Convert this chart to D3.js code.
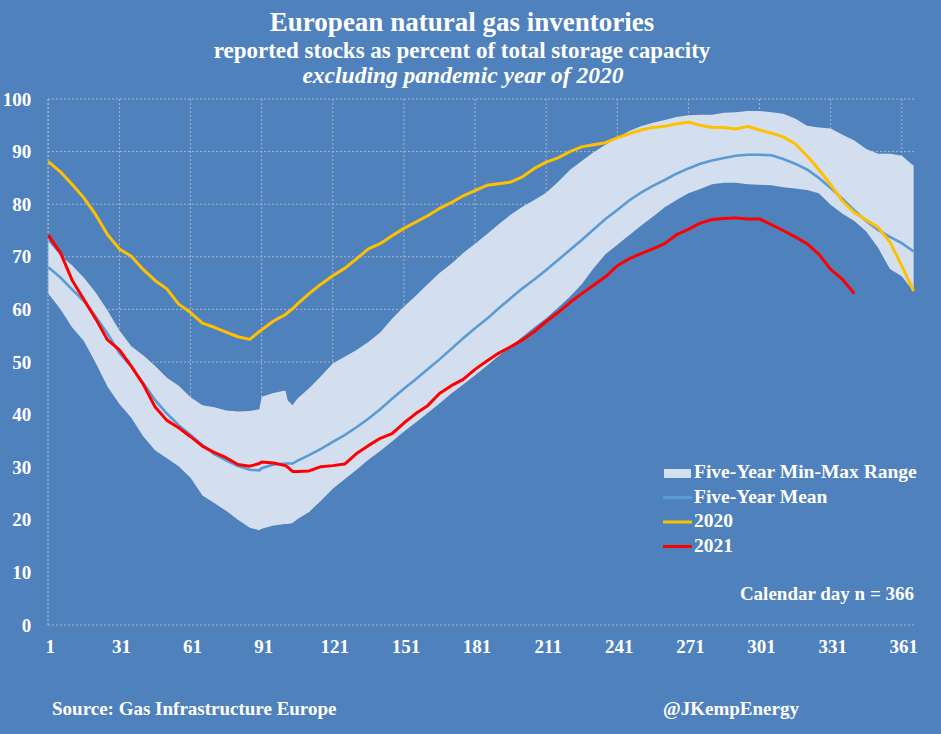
<!DOCTYPE html>
<html>
<head>
<meta charset="utf-8">
<script src="https://cdn.jsdelivr.net/npm/d3@7"></script>
<style>
  body { margin: 0; background: #4f81bd; }
  svg { display: block; }
  text { font-family: "Liberation Serif", "DejaVu Serif", serif; font-weight: bold; fill: #fff; }
</style>
</head>
<body>
<svg id="chart"></svg>
<script>
var w = 941,
    h = 734;

// calendar days
var days = [1, 6, 11, 16, 21, 26, 31, 36, 41, 46, 51, 56, 61, 66, 71, 76, 81, 86,
  90, 91, 96, 101, 102, 104,
  106, 111, 116, 121, 126, 131, 136, 141, 146, 151, 156, 161, 166, 171, 176, 181, 186, 191, 196, 201,
  206, 211, 216, 221, 226, 231, 236, 241, 246, 251, 256, 261, 266, 271, 276, 281, 286, 291, 296, 301,
  306, 311, 316, 321, 326, 331, 336, 341, 346, 351, 356, 361, 366];

var maxRange = [73.0, 70.3, 68.4, 66.0, 63.2, 59.8, 56.0, 53.0, 51.3, 49.3, 47.0, 45.5, 43.3, 41.8, 41.4, 40.8, 40.6, 40.7,
  41.0, 43.4, 44.1, 44.6, 42.7, 41.8,
  43.0, 45.0, 47.3, 49.7, 51.0, 52.3, 53.8, 55.6, 58.2, 60.5,
  62.6, 64.8, 66.9, 68.7, 70.7, 72.5, 74.3, 76.2, 78.0, 79.5,
  80.8, 82.2, 84.2, 86.5, 88.2, 89.9, 91.3, 92.6, 93.9, 94.8,
  95.5, 96.0, 96.6, 96.9, 97.0, 97.0, 97.4, 97.5, 97.7, 97.7,
  97.5, 97.2, 96.3, 94.9, 94.6, 94.4, 93.2, 92.1, 90.5, 89.6,
  89.6, 89.2, 87.3];

var minRange = [63.0, 60.1, 56.6, 54.0, 49.8, 45.3, 42.0, 39.4, 35.9, 33.2, 31.7, 30.2, 28.0, 24.6, 23.2, 21.7, 20.0, 18.5,
  18.0, 18.3, 18.9, 19.2, 19.2, 19.4,
  20.1, 21.5, 23.6, 25.9, 27.7, 29.5, 31.4, 33.1, 34.9, 36.8,
  38.5, 40.3, 42.1, 44.0, 45.7, 47.5, 49.3, 51.2, 52.9, 54.8,
  56.6, 58.3, 60.3, 62.4, 64.8, 67.8, 70.5, 72.3, 74.1, 75.9,
  77.6, 79.4, 80.8, 82.1, 82.9, 83.8, 84.1, 84.1, 83.8, 83.7,
  83.6, 83.2, 83.0, 82.7, 82.1, 79.9, 78.2, 76.8, 74.8, 71.7,
  67.7, 66.3, 63.4];

var meanVals = [68.0, 66.1, 63.8, 61.6, 58.6, 55.4, 51.7, 49.1, 46.0, 42.8, 40.2, 38.0, 36.1, 34.2, 32.5, 31.3, 30.2, 29.5,
  29.4, 29.8, 30.5, 30.7, 30.7, 30.7,
  31.2, 32.3, 33.5, 34.8, 36.1, 37.6, 39.2, 41.0, 43.0, 44.9,
  46.7, 48.6, 50.5, 52.5, 54.5, 56.4, 58.2, 60.2, 62.1, 64.0,
  65.7, 67.5, 69.4, 71.3, 73.2, 75.2, 77.2, 78.9, 80.7, 82.2,
  83.5, 84.6, 85.8, 86.8, 87.7, 88.3, 88.8, 89.2, 89.4, 89.4,
  89.3, 88.6, 87.7, 86.6, 85.0, 83.1, 81.0, 78.8, 76.8, 75.1,
  73.8, 72.6, 71.0];

var vals2020 = [88.1, 86.2, 83.8, 81.2, 78.0, 74.2, 71.5, 70.1, 67.6, 65.5, 63.9, 61.0, 59.4, 57.4, 56.6, 55.7, 54.8, 54.3,
  55.8, 56.1, 57.8, 59.0, 59.4, 60.1,
  61.0, 63.0, 64.8, 66.4, 67.8, 69.6, 71.5, 72.5, 74.0, 75.4,
  76.6, 77.8, 79.2, 80.3, 81.6, 82.6, 83.6, 83.9, 84.2, 85.2,
  86.8, 88.0, 88.8, 90.0, 90.9, 91.3, 91.7, 92.6, 93.4, 94.1,
  94.6, 94.8, 95.3, 95.6, 95.0, 94.6, 94.6, 94.3, 94.8, 94.1,
  93.5, 92.8, 91.5, 89.2, 86.6, 83.7, 80.6, 78.4, 77.0, 75.6,
  72.8, 68.3, 63.5];

// 2021 stops at day 341
var vals2021 = [74.1, 70.9, 65.6, 61.9, 58.2, 54.2, 52.3, 49.2, 45.8, 41.5, 38.9, 37.5, 35.8, 34.0, 32.8, 31.8, 30.5, 30.2,
  30.7, 31.0, 30.8, 30.3, 30.0, 29.2,
  29.2, 29.3, 30.1, 30.3, 30.6, 32.6, 34.1, 35.5, 36.4, 38.4,
  40.2, 41.7, 44.0, 45.5, 46.7, 48.6, 50.2, 51.7, 52.9, 54.2,
  55.8, 57.7, 59.4, 61.3, 63.0, 64.6, 66.2, 68.3, 69.6, 70.6,
  71.5, 72.5, 74.2, 75.2, 76.4, 77.1, 77.3, 77.4, 77.2, 77.2,
  76.1, 75.0, 73.8, 72.5, 70.5, 67.6, 65.7, 63.0];

var xTicks = [1, 31, 61, 91, 121, 151, 181, 211, 241, 271, 301, 331, 361];
var yTicks = [0, 10, 20, 30, 40, 50, 60, 70, 80, 90, 100];
var legendLabels = ["Five-Year Min-Max Range", "Five-Year Mean", "2020", "2021"];

var bg = "#4f81bd",
    bandColor = "#d3dfee",
    meanColor = "#5b9bd5",
    color2020 = "#ffc000",
    color2021 = "#ff0000",
    gridColor = "#aab4c6";

var rows = days.map(function(d, i) {
  return {
    day: d,
    min: minRange[i],
    max: maxRange[i],
    mean: meanVals[i],
    v2020: vals2020[i],
    v2021: i < vals2021.length ? vals2021[i] : null
  };
});

var x = d3.scaleLinear().domain([1, 367]).range([48.3, 916]);
var y = d3.scaleLinear().domain([0, 100]).range([625, 99]);

var svg = d3.select("#chart")
  .attr("width", w)
  .attr("height", h);

svg.append("rect")
  .attr("width", w)
  .attr("height", h)
  .style("fill", bg);

// titles
svg.append("text").attr("x", 462).attr("y", 31)
  .attr("text-anchor", "middle").style("font-size", "27px")
  .text("European natural gas inventories");
svg.append("text").attr("x", 462).attr("y", 58)
  .attr("text-anchor", "middle").style("font-size", "23px")
  .text("reported stocks as percent of total storage capacity");
svg.append("text").attr("x", 463).attr("y", 83)
  .attr("text-anchor", "middle").style("font-size", "23.5px").style("font-style", "italic")
  .text("excluding pandemic year of 2020");

// grid
var grid = svg.append("g");
grid.selectAll(".hg").data(yTicks.slice(1)).enter().append("line")
  .attr("x1", x.range()[0] - 0.3).attr("x2", x.range()[1])
  .attr("y1", y).attr("y2", y)
  .style("stroke", gridColor).style("stroke-dasharray", "2,2");
grid.selectAll(".vg").data(xTicks).enter().append("line")
  .attr("x1", x).attr("x2", x)
  .attr("y1", y(0)).attr("y2", y(100))
  .style("stroke", gridColor).style("stroke-dasharray", "2,2");

// the area below the band hides the grid, like a stacked area
svg.append("path")
  .datum(rows)
  .attr("d", d3.area().x(function(d) { return x(d.day); }).y0(y(0)).y1(function(d) { return y(d.min); }))
  .style("fill", bg);

svg.append("path")
  .datum(rows)
  .attr("d", d3.area().x(function(d) { return x(d.day); })
    .y0(function(d) { return y(d.min); })
    .y1(function(d) { return y(d.max); }))
  .style("fill", bandColor);

// axis lines
svg.append("line")
  .attr("x1", x.range()[0] - 0.3).attr("x2", x.range()[1])
  .attr("y1", y(0)).attr("y2", y(0))
  .style("stroke", gridColor).style("stroke-dasharray", "2,2");
svg.append("line")
  .attr("x1", x.range()[0] - 0.3).attr("x2", x.range()[0] - 0.3)
  .attr("y1", y(0)).attr("y2", y(100))
  .style("stroke", gridColor).style("stroke-dasharray", "2,2");

function lineFor(key) {
  return d3.line()
    .defined(function(d) { return d[key] != null; })
    .x(function(d) { return x(d.day); })
    .y(function(d) { return y(d[key]); });
}

svg.append("path").datum(rows).attr("d", lineFor("mean"))
  .style("fill", "none").style("stroke", meanColor).style("stroke-width", 2.6);
svg.append("path").datum(rows).attr("d", lineFor("v2020"))
  .style("fill", "none").style("stroke", color2020).style("stroke-width", 3).style("stroke-linejoin", "round");
svg.append("path").datum(rows).attr("d", lineFor("v2021"))
  .style("fill", "none").style("stroke", color2021).style("stroke-width", 3).style("stroke-linejoin", "round");

// axes
var yAxis = svg.append("g")
  .attr("transform", "translate(" + x.range()[0] + ",0)")
  .call(d3.axisLeft(y).tickValues(yTicks).tickSize(0).tickPadding(17));
var xAxis = svg.append("g")
  .attr("transform", "translate(1.5," + y(0) + ")")
  .call(d3.axisBottom(x).tickValues(xTicks).tickSize(0).tickPadding(15));
[yAxis, xAxis].forEach(function(a) {
  a.select(".domain").remove();
  a.selectAll("text")
    .style("font-family", "'Liberation Serif', serif")
    .style("font-size", "19px")
    .style("font-weight", "bold")
    .style("fill", "#fff");
});

// legend
var legend = svg.append("g").attr("transform", "translate(663,478)");
var swatchStyles = [
  { type: "rect", color: bandColor },
  { type: "line", color: meanColor },
  { type: "line", color: color2020 },
  { type: "line", color: color2021 }
];
var items = legend.selectAll("g").data(legendLabels).enter().append("g")
  .attr("transform", function(d, i) { return "translate(0," + i * 24.5 + ")"; });
items.each(function(d, i) {
  var g = d3.select(this), s = swatchStyles[i];
  if (s.type === "rect") {
    g.append("rect").attr("x", 1).attr("y", -9).attr("width", 27).attr("height", 9).style("fill", s.color);
  } else {
    g.append("line").attr("x1", 0).attr("x2", 29).attr("y1", -5).attr("y2", -5)
      .style("stroke", s.color).style("stroke-width", 3);
  }
  g.append("text").attr("x", 31).attr("y", 0).style("font-size", "19.5px").text(d);
});

svg.append("text").attr("x", 914).attr("y", 600)
  .attr("text-anchor", "end").style("font-size", "19px")
  .text("Calendar day n = 366");

svg.append("text").attr("x", 52).attr("y", 715).style("font-size", "19px")
  .text("Source: Gas Infrastructure Europe");
svg.append("text").attr("x", 663).attr("y", 715).style("font-size", "19px")
  .text("@JKempEnergy");
</script>
</body>
</html>
